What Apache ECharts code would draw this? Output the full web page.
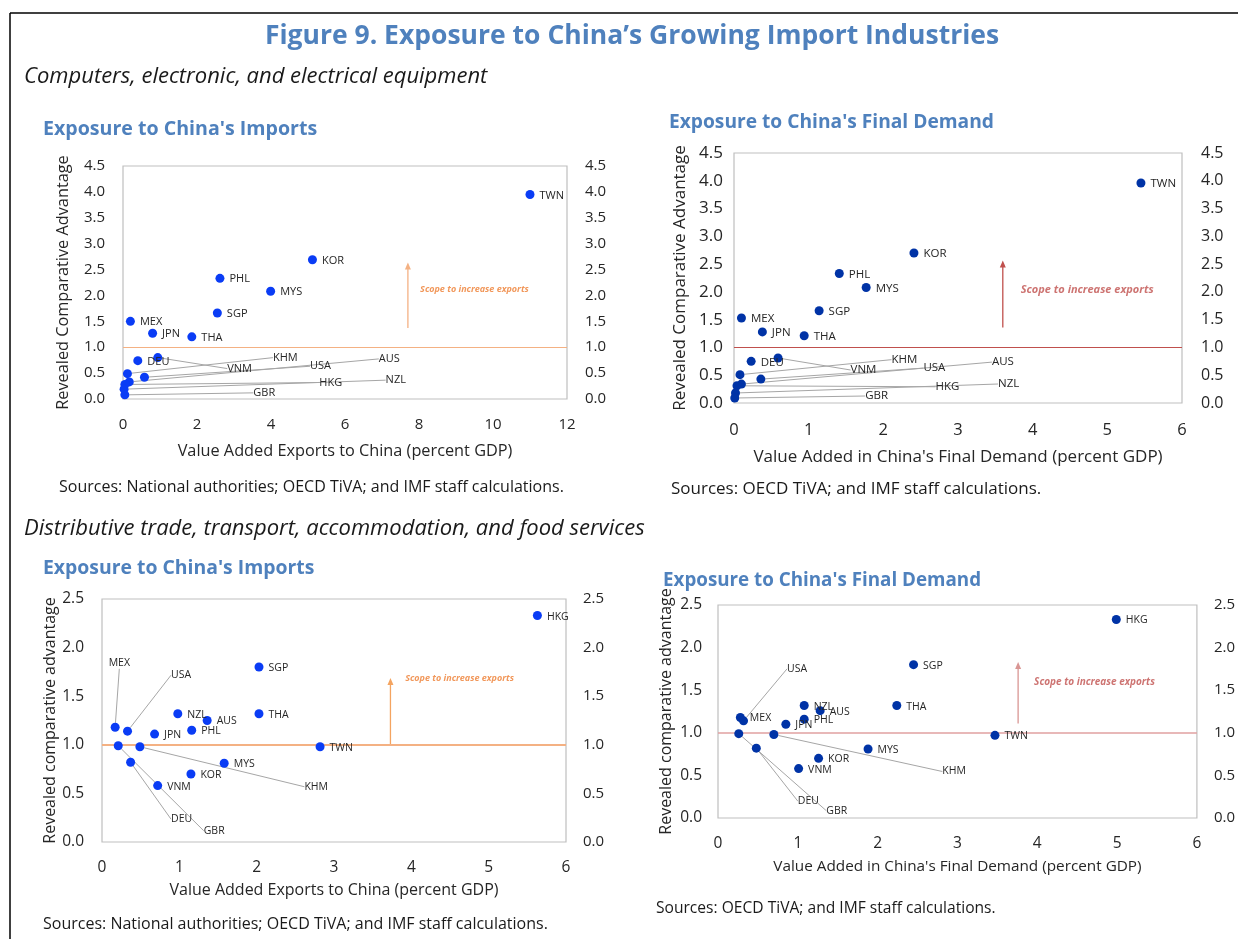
<!DOCTYPE html>
<html>
<head>
<meta charset="utf-8">
<script src="https://cdn.jsdelivr.net/npm/echarts@6/dist/echarts.min.js"></script>
<style>html,body{margin:0;padding:0;background:#fff;}#c{width:1238px;height:939px;}</style>
</head>
<body>
<div id="c"></div>
<script>
// ---------- DATA ----------
// Panel 1: Computers, electronic & electrical equipment — exposure to China's imports
const p1Countries = ['TWN','KOR','PHL','MYS','SGP','MEX','JPN','THA','DEU','VNM','KHM','USA','AUS','HKG','NZL','GBR'];
const p1X = [11.0, 5.12, 2.62, 3.99, 2.55, 0.20, 0.80, 1.86, 0.40, 0.94, 0.12, 0.58, 0.17, 0.05, 0.03, 0.05];
const p1Y = [3.95, 2.69, 2.33, 2.08, 1.66, 1.50, 1.27, 1.20, 0.74, 0.80, 0.49, 0.42, 0.33, 0.28, 0.19, 0.08];
// Panel 2: Computers — exposure to China's final demand
const p2Countries = ['TWN','KOR','PHL','MYS','SGP','MEX','JPN','THA','DEU','VNM','KHM','USA','AUS','HKG','NZL','GBR'];
const p2X = [5.45, 2.41, 1.41, 1.77, 1.14, 0.10, 0.38, 0.94, 0.23, 0.59, 0.08, 0.36, 0.10, 0.04, 0.02, 0.01];
const p2Y = [3.96, 2.70, 2.33, 2.08, 1.66, 1.53, 1.28, 1.21, 0.75, 0.81, 0.51, 0.43, 0.34, 0.31, 0.18, 0.09];
// Panel 3: Distributive trade etc. — exposure to China's imports
const p3Countries = ['HKG','SGP','THA','NZL','AUS','PHL','JPN','MEX','USA','TWN','GBR','KHM','DEU','VNM','KOR','MYS'];
const p3X = [5.63, 2.03, 2.03, 0.98, 1.36, 1.16, 0.68, 0.17, 0.33, 2.82, 0.21, 0.49, 0.37, 0.72, 1.15, 1.58];
const p3Y = [2.33, 1.80, 1.32, 1.32, 1.25, 1.15, 1.11, 1.18, 1.14, 0.98, 0.99, 0.98, 0.82, 0.58, 0.70, 0.81];
// Panel 4: Distributive trade etc. — exposure to China's final demand
const p4Countries = ['HKG','SGP','THA','NZL','AUS','PHL','JPN','MEX','USA','TWN','GBR','KHM','DEU','VNM','KOR','MYS'];
const p4X = [4.99, 2.45, 2.24, 1.08, 1.28, 1.08, 0.85, 0.28, 0.32, 3.47, 0.26, 0.70, 0.48, 1.01, 1.26, 1.88];
const p4Y = [2.33, 1.80, 1.32, 1.32, 1.26, 1.16, 1.10, 1.18, 1.14, 0.97, 0.99, 0.98, 0.82, 0.58, 0.70, 0.81];
// Axis ranges / tick labels
const xMax = [12, 6, 6, 6];
const xStep = [2, 1, 1, 1];
const yMax = [4.5, 4.5, 2.5, 2.5];
const yStep = [0.5, 0.5, 0.5, 0.5];
// Annotation arrows (x, from y, to y) and text anchors
const arrowX = [7.7, 3.6, 3.73, 3.76];
const arrowFrom = [1.37, 1.36, 1.0, 1.11];
const arrowTo = [2.57, 2.5, 1.65, 1.79];
const noteX = [8.03, 3.84, 3.92, 3.96];
const noteY = [2.12, 2.03, 1.68, 1.60];
const noteText = 'Scope to increase exports';
const threshold = 1.0;

// ---------- LAYOUT / STYLE ----------
const FONT = '"Open Sans", "Noto Sans", sans-serif';
const labelShift = [
  {VNM:[60,11], KHM:[136,-16], USA:[156,-11], AUS:[240,-23], HKG:[185,-2], NZL:[252,-9], GBR:[119,-2]},
  {VNM:[63,12], KHM:[142,-15], USA:[153,-11], AUS:[241,-22], HKG:[189,1], NZL:[253,-9], GBR:[121,-2]},
  {MEX:[-16,-64], USA:[34,-56], GBR:[76,85], KHM:[155,40], DEU:[31,57]},
  {USA:[34,-52], GBR:[78,77], DEU:[32,53], KHM:[159,37]}
];
const panels = [
  {grid:{left:123, top:166, width:444, height:233}, xName:'Value Added Exports to China (percent GDP)', yName:'Revealed Comparative Advantage',
   dot:'#0A3CF5', line:'#F4B183', lineW:1.2, arrow:'#F4B183', note:'#ED7D31', noteSize:9, lblSize:11,
   tickL:15, tickR:15, tickX:15, nameX:16.3, nameY:16.3,
   yMarginL:18, yMarginR:18, xMargin:18, xGap:44, yGap:52, countries:p1Countries, xs:p1X, ys:p1Y},
  {grid:{left:734, top:153, width:448, height:250}, xName:"Value Added in China's Final Demand (percent GDP)", yName:'Revealed Comparative Advantage',
   dot:'#0033A6', line:'#C0504D', lineW:1.2, arrow:'#C0504D', note:'#C0504D', noteSize:11, lblSize:11.5,
   tickL:17, tickR:16, tickX:16.5, nameX:17, nameY:17,
   yMarginL:11, yMarginR:19, xMargin:19, xGap:46, yGap:45, countries:p2Countries, xs:p2X, ys:p2Y},
  {grid:{left:102, top:599, width:464, height:243}, xName:'Value Added Exports to China (percent GDP)', yName:'Revealed comparative advantage',
   dot:'#0A3CF5', line:'#F4B183', lineW:2, arrow:'#F4A460', note:'#ED7D31', noteSize:9, lblSize:10.5,
   tickL:15.5, tickR:15, tickX:15.5, nameX:16, nameY:16,
   yMarginL:18, yMarginR:17, xMargin:18, xGap:40, yGap:44, countries:p3Countries, xs:p3X, ys:p3Y},
  {grid:{left:718, top:605, width:481, height:213}, xName:"Value Added in China's Final Demand (percent GDP)", yName:'Revealed comparative advantage',
   dot:'#0033A6', line:'#E0A0A0', lineW:1.5, arrow:'#D99694', note:'#C0504D', noteSize:10, lblSize:10.5,
   tickL:15.5, tickR:15, tickX:15.5, nameX:15.3, nameY:16,
   yMarginL:16, yMarginR:17, xMargin:18, xGap:41, yGap:44, countries:p4Countries, xs:p4X, ys:p4Y}
];

const grids = [], xAxes = [], yAxes = [], series = [];
panels.forEach((p, i) => {
  grids.push(Object.assign({show:true, borderColor:'#BFBFBF', borderWidth:1.2, containLabel:false}, p.grid));
  xAxes.push({type:'value', gridIndex:i, min:0, max:xMax[i], interval:xStep[i],
    name:p.xName, nameLocation:'middle', nameGap:p.xGap,
    nameTextStyle:{fontFamily:FONT, fontSize:p.nameX, color:'#262626'},
    axisLine:{show:false}, axisTick:{show:false}, splitLine:{show:false},
    axisLabel:{fontFamily:FONT, fontSize:p.tickX, color:'#262626', margin:p.xMargin}});
  const yFmt = v => v.toFixed(1);
  yAxes.push({type:'value', gridIndex:i, position:'left', min:0, max:yMax[i], interval:yStep[i],
    name:p.yName, nameLocation:'middle', nameGap:p.yGap, nameRotate:90,
    nameTextStyle:{fontFamily:FONT, fontSize:p.nameY, color:'#262626'},
    axisLine:{show:false}, axisTick:{show:false}, splitLine:{show:false},
    axisLabel:{fontFamily:FONT, fontSize:p.tickL, color:'#262626', margin:p.yMarginL, formatter:yFmt}});
  yAxes.push({type:'value', gridIndex:i, position:'right', min:0, max:yMax[i], interval:yStep[i],
    axisLine:{show:false}, axisTick:{show:false}, splitLine:{show:false},
    axisLabel:{fontFamily:FONT, fontSize:p.tickR, color:'#262626', margin:p.yMarginR, formatter:yFmt}});

  const shifts = labelShift[i];
  const data = p.countries.map((c, k) => ({
    name:c, value:[p.xs[k], p.ys[k]],
    labelLine:{show: !!shifts[c]}
  }));
  series.push({
    type:'scatter', xAxisIndex:i, yAxisIndex:2*i, symbolSize:9, z:5,
    itemStyle:{color:p.dot, opacity:1},
    data:data,
    label:{show:true, position:'right', distance:5, formatter:'{b}',
      fontFamily:FONT, fontSize:p.lblSize, color:'#262626'},
    labelLine:{show:false, lineStyle:{color:'#A6A6A6', width:1}},
    labelLayout:(params) => {
      const nm = p.countries[params.dataIndex];
      const s = shifts[nm];
      if (s) return {dx:s[0], dy:s[1]};
      return {dy:1};
    },
    emphasis:{disabled:true},
    markLine:{silent:true, symbol:'none', animation:false,
      label:{show:false},
      lineStyle:{color:p.line, width:p.lineW, type:'solid', opacity:1},
      data:[{yAxis:threshold}]}
  });
  // arrow
  series.push({
    type:'line', xAxisIndex:i, yAxisIndex:2*i, z:3, silent:true, animation:false,
    lineStyle:{color:p.arrow, width:1.3},
    itemStyle:{color:p.arrow},
    data:[{value:[arrowX[i], arrowFrom[i]], symbol:'none'},
          {value:[arrowX[i], arrowTo[i]], symbol:'triangle', symbolSize:[6,7]}],
    showSymbol:true
  });
  // note
  series.push({
    type:'scatter', xAxisIndex:i, yAxisIndex:2*i, symbolSize:0, silent:true,
    data:[{name:noteText, value:[noteX[i], noteY[i]]}],
    label:{show:true, position:'right', distance:0, formatter:'{b}',
      fontFamily:FONT, fontSize:p.noteSize, fontStyle:'italic', fontWeight:'bold', color:p.note}
  });
});

const BLUE = '#4F81BD';
function txt(x, y, text, size, opts) {
  return {type:'text', x:x, y:y, silent:true,
    style:Object.assign({text:text, fontFamily:FONT, fontSize:size, fill:'#000', verticalAlign:'middle', align:'left'}, opts||{})};
}
const graphics = [
  {type:'line', shape:{x1:10, y1:13, x2:1238, y2:13}, style:{stroke:'#000', lineWidth:1.5}, silent:true},
  {type:'line', shape:{x1:10, y1:13, x2:10, y2:939}, style:{stroke:'#000', lineWidth:1.5}, silent:true},
  txt(632, 36, 'Figure 9. Exposure to China’s Growing Import Industries', 26.5, {fontWeight:'bold', fill:BLUE, align:'center'}),
  txt(24, 77, 'Computers, electronic, and electrical equipment', 22, {fontStyle:'italic', fill:'#1a1a1a'}),
  txt(24, 529, 'Distributive trade, transport, accommodation, and food services', 22, {fontStyle:'italic', fill:'#1a1a1a'}),
  txt(43, 129, "Exposure to China's Imports", 19.6, {fontWeight:'bold', fill:BLUE}),
  txt(669, 123, "Exposure to China's Final Demand", 19.2, {fontWeight:'bold', fill:BLUE}),
  txt(43, 568, "Exposure to China's Imports", 19.4, {fontWeight:'bold', fill:BLUE}),
  txt(663, 581, "Exposure to China's Final Demand", 18.8, {fontWeight:'bold', fill:BLUE}),
  txt(59, 487, 'Sources: National authorities; OECD TiVA; and IMF staff calculations.', 16, {fill:'#1a1a1a'}),
  txt(671, 489, 'Sources: OECD TiVA; and IMF staff calculations.', 17, {fill:'#1a1a1a'}),
  txt(43, 924, 'Sources: National authorities; OECD TiVA; and IMF staff calculations.', 16, {fill:'#1a1a1a'}),
  txt(656, 909, 'Sources: OECD TiVA; and IMF staff calculations.', 15.6, {fill:'#1a1a1a'})
];

const chart = echarts.init(document.getElementById('c'), null, {renderer:'canvas'});
chart.setOption({
  animation:false,
  backgroundColor:'#fff',
  grid:grids, xAxis:xAxes, yAxis:yAxes, series:series,
  graphic:graphics
});
</script>
</body>
</html>
